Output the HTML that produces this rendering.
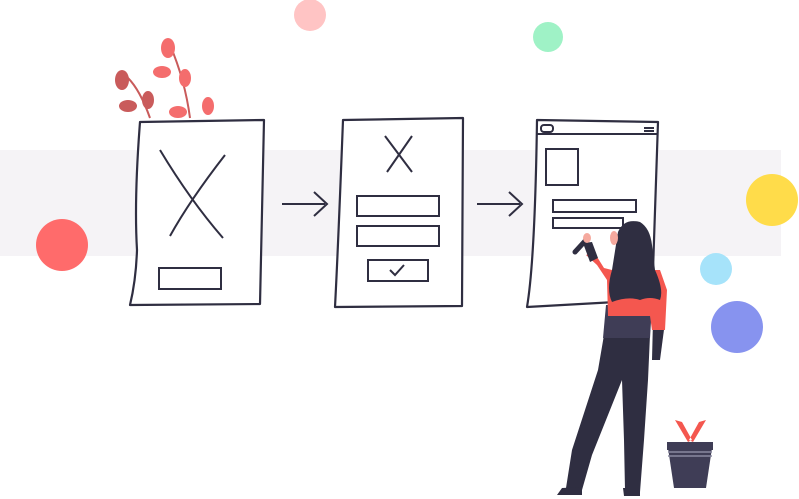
<!DOCTYPE html><html><head><style>body{margin:0;background:#fff}svg{display:block}</style></head><body>
<svg width="799" height="499" viewBox="0 0 799 499" xmlns="http://www.w3.org/2000/svg">
<rect x="0" y="150" width="781" height="106" fill="#f5f3f6"/>
<circle cx="310" cy="15" r="16" fill="#ffc4c4"/>
<circle cx="548" cy="37" r="15" fill="#9ff2c6"/>
<circle cx="62" cy="245" r="26" fill="#ff6b6b"/>
<circle cx="772" cy="200" r="26" fill="#ffdc4a"/>
<circle cx="716" cy="269" r="16" fill="#a6e3fa"/>
<circle cx="737" cy="327" r="26" fill="#8793ef"/>
<g fill="#f46d6d">
<path d="M150 118 Q140 90 128 78" stroke="#c95b5b" stroke-width="2" fill="none"/>
<path d="M190 118 Q185 80 170 45" stroke="#c95b5b" stroke-width="2" fill="none"/>
<ellipse cx="168" cy="48" rx="7" ry="10"/><ellipse cx="162" cy="72" rx="9" ry="6"/><ellipse cx="185" cy="78" rx="6" ry="9"/>
<ellipse cx="178" cy="112" rx="9" ry="6"/><ellipse cx="208" cy="106" rx="6" ry="9"/>
<ellipse cx="122" cy="80" rx="7" ry="10" fill="#c95b5b"/><ellipse cx="128" cy="106" rx="9" ry="6" fill="#c95b5b"/><ellipse cx="148" cy="100" rx="6" ry="9" fill="#c95b5b"/>
</g>
<g fill="#fff" stroke="#2f2e41" stroke-width="2.2" stroke-linejoin="round">
<path d="M140 122 L264 120 L260 304 L130 305 Q136 280 137 250 Q134 200 140 122 Z"/>
<path d="M343 120 L463 118 L462 306 L335 307 Q338 250 343 120 Z"/>
<path d="M537 120 L658 122 L652 300 L527 307 Q535 260 537 120 Z"/>
</g>
<g fill="none" stroke="#2f2e41" stroke-width="2">
<path d="M160 150 Q190 200 223 238 M225 155 Q190 200 170 236"/>
<rect x="159" y="268" width="62" height="21"/>
<path d="M385 136 L412 172 M412 136 L387 172"/>
<rect x="357" y="196" width="82" height="20"/><rect x="357" y="226" width="82" height="20"/>
<rect x="368" y="260" width="60" height="21"/><path d="M390 270 l5 5 l9 -10"/>
<path d="M537 134 L657 134"/><rect x="541" y="125" width="12" height="7" rx="3"/>
<path d="M644 128 h10 M644 131 h10"/>
<rect x="546" y="149" width="32" height="36"/>
<rect x="553" y="200" width="83" height="12"/><rect x="553" y="218" width="70" height="10"/>
<path d="M282 204 L325 204 M314 192 L327 204 L314 216"/>
<path d="M477 204 L520 204 M509 192 L522 204 L509 216"/>
</g>
<!-- pants -->
<path d="M604 335 L598 370 L585 410 L572 450 L566 488 L582 490 L592 455 L612 405 L622 380 L624 440 L625 490 L640 492 L644 440 L648 380 L650 335 Z" fill="#2f2e41"/>
<path d="M562 488 L582 487 L582 495 L557 495 Z M623 488 L640 488 L640 496 L624 496 Z" fill="#2f2e41"/>
<!-- waist -->
<path d="M606 305 L652 305 L650 338 L603 338 Z" fill="#3f3d56"/>
<!-- right sleeve -->
<path d="M653 320 L665 322 L660 360 L652 360 Z" fill="#2f2e41"/>
<!-- red top -->
<path d="M594 252 L604 268 L612 270 L660 270 L667 290 L665 330 L652 330 L650 316 L608 316 L607 280 L597 265 L586 255 Z" fill="#f4574f"/>
<!-- left cuff and marker -->
<path d="M583 243 L592 242 L598 258 L590 262 Z" fill="#2f2e41"/>
<path d="M575 252 L586 240" stroke="#2f2e41" stroke-width="5" stroke-linecap="round"/>
<ellipse cx="587" cy="238" rx="4" ry="5" fill="#f5a99e"/>
<!-- hair -->
<path d="M618 232 Q624 218 640 222 Q650 228 652 245 L655 270 Q664 290 660 300 Q650 296 640 300 Q628 296 612 302 Q606 290 612 270 Z" fill="#2f2e41"/>
<ellipse cx="614" cy="238" rx="4" ry="7" fill="#f5a99e"/>
<!-- pot -->
<path d="M668 448 L712 448 L706 488 L674 488 Z" fill="#3f3d56"/>
<rect x="667" y="442" width="46" height="8" fill="#3f3d56"/>
<path d="M668 452 h44 M668 456 h44" stroke="#8a8aa0" stroke-width="1.5"/>
<path d="M688 442 L675 420 L682 422 L692 440 Z M693 442 L706 420 L699 422 L689 440 Z" fill="#f4574f"/>
</svg>
</body></html>
